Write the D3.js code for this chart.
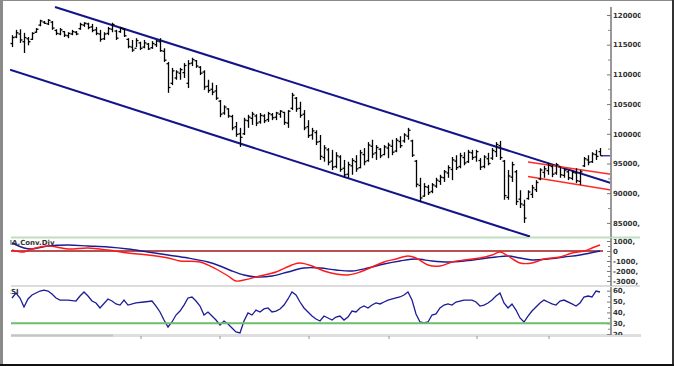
<!DOCTYPE html>
<html><head><meta charset="utf-8">
<script src="https://cdn.jsdelivr.net/npm/d3@7"></script>
<style>
body{margin:0;background:#fff;}
svg{display:block;}
text{font-family:"DejaVu Sans",sans-serif;font-weight:bold;font-size:7px;fill:#333;}
</style>
</head><body><svg id="c" width="674" height="366"></svg>
<script>
// ---- Price bars (OHLC) ----
const highs=[116600,117500,117600,117000,116300,117100,117800,119200,119000,119300,
119000,117600,117800,117300,117100,117500,117300,118700,118800,118700,
118500,118000,117500,117100,118000,118700,117500,118000,117800,116100,
115800,116100,115500,115800,115300,115600,115800,116100,114400,112100,
111100,110700,111100,111900,112400,112800,112400,111400,110700,109100,
108600,108200,105700,104800,104300,103200,102000,101000,102700,103200,
103700,103300,103500,103300,103700,103500,103700,104000,103700,104000,
106900,106200,105400,104000,102300,101000,100600,99800,98100,97600,
97300,96900,96400,95600,95300,95900,96400,97300,97600,98600,
99000,98100,97600,98100,98500,99000,99300,99600,100100,101000,
99000,95600,92600,91700,91400,91700,92600,93100,93900,94700,
96100,96400,96800,96900,97300,97300,97300,95900,96400,96800,
97600,98600,98800,95600,93900,95300,93900,90500,88900,90500,
91400,92200,94200,94600,95100,94700,95100,94400,94200,93900,
93900,94200,93900,96100,96400,96900,97300,97600];
const lows=[114600,116100,115300,113600,114900,115800,117000,118100,118500,118300,
117500,116600,116600,116300,116100,116600,116600,117500,118000,117600,
117100,116600,115500,115800,116600,117100,115800,117000,116300,114400,
113800,114600,114100,114400,114100,114300,114600,113800,112100,106900,
108200,109100,109100,109400,107700,111400,111100,109900,107400,106900,
106500,105700,102800,103200,102700,100600,99500,97800,99800,101000,
101500,101300,101700,101800,102000,102300,102300,102700,101500,101000,
104000,103700,102700,100600,99300,99000,98100,95600,95300,94700,
93900,94200,93600,92600,92600,93100,93600,94200,94700,95300,
95900,95600,95900,96400,95900,96400,96900,97600,98500,99000,
96100,91000,88500,89400,89700,90000,90900,91400,91900,92600,
92200,93900,94200,94700,95100,95600,95300,93900,94200,94700,
95600,96100,95600,88900,88900,91900,88000,87500,85000,88900,
89200,90200,92200,92600,93100,92700,93100,92600,92600,92200,
92200,91700,91400,94400,94700,95100,95600,96300];
const opens=[115200,116300,116800,115500,116000,115900,117100,118300,118800,118500,
118800,117400,116800,117200,116500,116800,117100,117700,118300,118500,
118000,117500,116800,116000,116900,117600,117300,117200,117600,115900,
114600,114400,115300,114600,115100,114500,115000,115500,113900,111800,
108500,109400,110200,110300,108500,111900,112300,111200,110400,108000,
107500,107200,105500,103500,104200,102900,101200,100000,100000,102200,
102600,103000,102000,103000,102400,103200,102800,103300,103600,101800,
104300,106000,104300,103300,101200,99800,100200,98700,96000,97300,
95400,94500,96100,94200,93200,94600,95300,94300,96500,95500,
97900,96800,97400,96500,97600,97900,97100,98700,98800,99600,
98800,95400,91300,89500,91000,90300,91200,92000,92600,93400,
94000,95400,94500,96000,95300,96800,96100,95500,94500,95800,
95900,97000,98000,95400,89300,92700,93600,89000,88000,89100,
89800,90600,92400,93500,93800,94500,93400,94500,93000,93600,
92500,93400,92000,94600,95600,95300,96500,97000];
const closes=[116200,117000,115800,116200,115500,116900,117600,119000,118600,119100,
117800,116900,117500,116600,116900,117200,116800,118400,118600,117900,
117400,116900,115900,116800,117700,118400,116100,117800,116500,114700,
114100,115700,114400,115300,114300,115200,115600,114000,112400,107800,
110600,110400,110800,111500,111800,112500,111400,110200,107900,107300,
107000,106000,103300,104500,103000,101000,99900,99400,102300,102800,
103300,101800,103100,102200,103400,102700,103500,103800,101900,103800,
106500,104200,103100,101000,99700,100500,98600,96200,97600,95200,
94400,96300,94000,93100,94800,95500,94100,96800,95300,98100,
96600,97700,96300,97800,98100,96900,98900,98000,99800,100600,
96400,91500,89200,91100,90100,91400,92200,92700,93600,94300,
95600,94300,96300,95100,96900,96000,97000,94400,96100,95000,
97200,98200,96000,89600,92900,94800,88600,88200,85800,90200,
90900,91800,93900,94100,94700,93200,94800,93100,93900,92600,
93500,92100,93600,95800,95200,96600,96200,96300];

// ---- Trend lines (bar index, price) ----
const channelUpper=[[10.75,121350],[149.75,91700]];
const channelLower=[[-0.5,110800],[129.5,82700]];
const redUpper=[[129,95250],[149.75,93200]];
const redLower=[[129,92800],[149.75,90550]];

// ---- MACD ----
const macdIdx=[0,3,5,9,14,19,24,29,34,39,42,47,51,54,56,58,62,66,70,72,75,78,81,84,87,90,93,96,99,101,104,107,110,113,117,120,122,124,127,130,133,137,140,143,145,147];
const macdVals=[100,-100,200,500,200,300,100,-200,-400,-700,-1000,-1100,-1800,-2500,-3000,-2900,-2500,-2100,-1400,-1200,-1500,-2000,-2300,-2400,-2100,-1600,-1100,-800,-500,-700,-1400,-1500,-1100,-900,-700,-400,-100,-500,-1200,-1200,-800,-600,-200,0,300,600];
const sigIdx=[0,3,5,9,14,19,24,29,34,39,44,49,52,55,58,61,65,69,73,77,81,85,89,93,97,101,105,109,113,117,121,124,127,130,134,138,142,147];
const sigVals=[800,300,200,500,600,500,400,200,-100,-400,-700,-1100,-1500,-2000,-2400,-2600,-2500,-2100,-1700,-1700,-1900,-2000,-1700,-1300,-1000,-800,-1000,-1100,-1000,-800,-600,-500,-700,-900,-800,-600,-400,0];

// ---- RSI ----
const rsiIdx=[0,1,2,3,4,5,6,7,8,9,10,11,12,14,16,17,18,19,20,21,22,24,25,26,27,28,29,31,33,35,
36,37,38,39,40,41,42,43,44,45,46,47,48,49,50,51,52,53,54,55,56,57,58,59,60,61,62,63,64,65,
66,67,68,69,70,71,72,73,74,75,76,77,78,79,80,81,82,83,84,85,86,87,88,89,90,91,92,93,94,96,
97,98,99,100,101,102,103,104,105,106,107,108,109,110,111,113,115,116,117,118,
119,120,121,122,123,124,125,126,127,128,129,130,131,132,133,134,135,136,137,138,140,141,142,143,144,145,146,147];
const rsiVals=[53.3,57.9,53.3,45.0,52.4,56.0,57.9,59.7,60.6,59.7,57.0,53.3,51.4,51.4,50.5,55.1,58.8,55.1,50.5,48.7,44.1,52.4,50.5,47.8,46.8,51.4,46.8,48.7,49.6,50.5,
45.9,40.4,33.0,26.6,31.2,37.6,41.3,46.8,53.3,54.2,50.5,45.9,37.6,40.4,36.7,33.0,28.5,32.1,29.4,25.7,22.0,21.1,32.1,39.5,37.6,42.2,40.4,43.2,44.1,40.4,
41.3,43.2,46.8,52.4,58.8,56.0,49.6,44.1,40.4,36.7,34.0,32.1,36.7,34.9,33.0,35.8,36.7,33.0,35.8,41.3,40.4,44.1,45.9,44.1,46.8,48.7,47.8,49.6,51.4,53.3,
54.2,56.0,58.8,51.4,38.6,31.2,30.3,31.2,37.6,38.6,44.1,46.8,47.8,46.8,49.6,51.4,51.4,49.6,45.9,46.8,
48.7,51.4,55.1,57.9,48.7,44.1,47.8,42.2,34.9,31.2,36.7,41.3,45.0,48.7,51.4,49.6,47.8,46.8,50.5,51.4,47.8,45.9,48.7,54.2,55.1,54.2,59.7,58.8];
const rsiLevel=30;

// ---- Axis ticks ----
const priceTicks=[85000,90000,95000,100000,105000,110000,115000,120000];
const priceMinor=[87500,92500,97500,102500,107500,112500,117500];
const macdTicks=[-3000,-2000,-1000,0,1000];
const rsiTicks=[20,30,40,50,60];
const timeTickIdx=[32.25,52,74.25,94.25,116.25,134.25];

const svg=d3.select("#c");
const defs=svg.append("defs");
defs.append("clipPath").attr("id","pclip").append("rect").attr("x",10).attr("y",6).attr("width",601).attr("height",231);
defs.append("clipPath").attr("id","mclip").append("rect").attr("x",10).attr("y",238).attr("width",601).attr("height",47);
defs.append("clipPath").attr("id","rclip").append("rect").attr("x",10).attr("y",287).attr("width",601).attr("height",47);
defs.append("clipPath").attr("id","lclip").append("rect").attr("x",600).attr("y",0).attr("width",40.5).attr("height",335);
defs.append("clipPath").attr("id","tclip").append("rect").attr("x",10.5).attr("y",0).attr("width",100).attr("height",366);

const x=d3.scaleLinear().domain([0,147]).range([12,600]);
const yP=d3.scaleLinear().domain([85000,120000]).range([222.9,15]);
const yM=d3.scaleLinear().domain([-3000,1000]).range([281,241]);
const yR=d3.scaleLinear().domain([30,60]).range([323.3,290.7]);

// Frame
svg.append("rect").attr("x",0).attr("y",0).attr("width",674).attr("height",1).attr("fill","#8a8a8a");
svg.append("rect").attr("x",0).attr("y",0).attr("width",3).attr("height",366).attr("fill","#8a8a8a");
svg.append("rect").attr("x",672).attr("y",0).attr("width",2).attr("height",366).attr("fill","#333");
svg.append("rect").attr("x",0).attr("y",364).attr("width",674).attr("height",2).attr("fill","#111");

// separators
svg.append("line").attr("x1",11).attr("x2",640).attr("y1",237.5).attr("y2",237.5).attr("stroke","#bfe0bf").attr("stroke-width",2);
svg.append("line").attr("x1",11).attr("x2",640).attr("y1",286).attr("y2",286).attr("stroke","#dcdcdc").attr("stroke-width",2);
// bottom time axis
svg.append("line").attr("x1",11).attr("x2",641).attr("y1",335.5).attr("y2",335.5).attr("stroke","#dedede").attr("stroke-width",3);
svg.append("line").attr("x1",11).attr("x2",113).attr("y1",335.5).attr("y2",335.5).attr("stroke","#c4c4c4").attr("stroke-width",2);
svg.append("g").selectAll("line").data(timeTickIdx).join("line")
  .attr("x1",d=>x(d)).attr("x2",d=>x(d)).attr("y1",336).attr("y2",339).attr("stroke","#999").attr("stroke-width",1);

// ---- price panel ----
const pg=svg.append("g").attr("clip-path","url(#pclip)");
const line=d3.line().x(d=>x(d[0])).y(d=>yP(d[1]));
pg.append("path").attr("d",line(channelUpper)).attr("stroke","#14148a").attr("stroke-width",2).attr("fill","none");
pg.append("path").attr("d",line(channelLower)).attr("stroke","#14148a").attr("stroke-width",2).attr("fill","none");
pg.append("path").attr("d",line(redUpper)).attr("stroke","#ff2a2a").attr("stroke-width",1.5).attr("fill","none");
pg.append("path").attr("d",line(redLower)).attr("stroke","#ff2a2a").attr("stroke-width",1.5).attr("fill","none");

const bars=pg.append("g").attr("stroke","#000").attr("stroke-width",1.3);
highs.forEach((h,i)=>{
  const cx=Math.round(x(i))+0.5;
  bars.append("line").attr("x1",cx).attr("x2",cx).attr("y1",yP(h)).attr("y2",yP(lows[i]));
  bars.append("line").attr("x1",cx-2).attr("x2",cx).attr("y1",yP(opens[i])).attr("y2",yP(opens[i]));
  bars.append("line").attr("x1",cx).attr("x2",cx+2).attr("y1",yP(closes[i])).attr("y2",yP(closes[i]));
});
// last price marker
const lastC=closes[closes.length-1];
svg.append("line").attr("x1",x(147)+2).attr("x2",611).attr("y1",yP(lastC)).attr("y2",yP(lastC)).attr("stroke","#14148a").attr("stroke-width",1.2);

// axes
function drawAxis(scale,ticks,minor,y0,y1,fmt){
  svg.append("line").attr("x1",611).attr("x2",611).attr("y1",y0).attr("y2",y1).attr("stroke","#999").attr("stroke-width",2);
  const g=svg.append("g").attr("transform","translate(611,0)");
  g.call(d3.axisRight(scale).tickValues(ticks).tickSize(-4).tickSizeOuter(0).tickPadding(2).tickFormat(fmt));
  g.select(".domain").remove();
  g.selectAll(".tick line").attr("stroke","#777");
  g.selectAll(".tick text").attr("clip-path",null).style("font-size","7px").style("fill","#333").attr("font-family",null);
  g.attr("clip-path","url(#lclip)");
  if(minor){
    const m=svg.append("g").attr("transform","translate(611,0)");
    m.call(d3.axisRight(scale).tickValues(minor).tickSize(-3).tickSizeOuter(0).tickFormat(""));
    m.select(".domain").remove();
    m.selectAll(".tick line").attr("stroke","#888");
  }
}
drawAxis(yP,priceTicks,priceMinor,7,237,d=>d+",");
drawAxis(yM,macdTicks,[-2500,-1500,-500,500],238,286,d=>d===0?"0":d+",");
drawAxis(yR,rsiTicks,[25,35,45,55],287,335,d=>d+",");
// the lclip must cut the last digits on the right; fix clip rect for axis groups: translate offset
d3.select("#lclip rect").attr("x",-11).attr("width",40.5);

// ---- MACD panel ----
const mg=svg.append("g").attr("clip-path","url(#mclip)");
mg.append("line").attr("x1",11).attr("x2",x(147)+3).attr("y1",yM(0)).attr("y2",yM(0)).attr("stroke","#a01818").attr("stroke-width",1.5);
const mline=d3.line().x(d=>x(d[0])).y(d=>yM(d[1])).curve(d3.curveCatmullRom);
mg.append("path").attr("d",mline(sigIdx.map((d,i)=>[d,sigVals[i]]))).attr("stroke","#1c1c96").attr("stroke-width",1.4).attr("fill","none");
mg.append("path").attr("d",mline(macdIdx.map((d,i)=>[d,macdVals[i]]))).attr("stroke","#ff1a1a").attr("stroke-width",1.4).attr("fill","none");
svg.append("text").attr("x",5).attr("y",245).attr("clip-path","url(#tclip)").text("MA.Conv.Div");

// ---- RSI panel ----
const rg=svg.append("g").attr("clip-path","url(#rclip)");
svg.append("line").attr("x1",11).attr("x2",611).attr("y1",yR(rsiLevel)).attr("y2",yR(rsiLevel)).attr("stroke","#6cbd6c").attr("stroke-width",2);
const rline=d3.line().x(d=>x(d[0])).y(d=>yR(d[1]));
rg.append("path").attr("d",rline(rsiIdx.map((d,i)=>[d,rsiVals[i]]))).attr("stroke","#1c1c96").attr("stroke-width",1.3).attr("fill","none");
svg.append("text").attr("x",5.5).attr("y",294).attr("clip-path","url(#tclip)").text("RSI");
</script>
</body></html>
